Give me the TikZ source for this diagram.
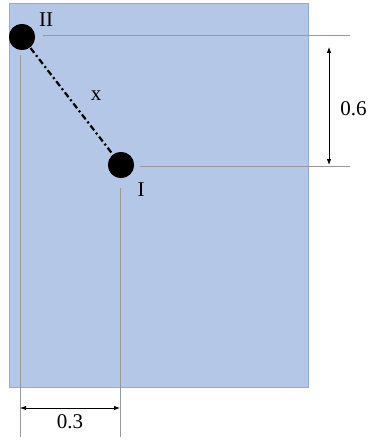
\documentclass[tikz,border=0pt]{standalone}
\usepackage{fontspec}
\setmainfont{Liberation Serif}
\usetikzlibrary{arrows.meta}
\definecolor{boxfill}{HTML}{B4C7E7}
\definecolor{boxline}{HTML}{8FAADC}
\tikzset{
  guide/.style={draw=gray!80, line width=0.6pt},
  dimarrow/.style={draw=black, line width=0.8pt, {Latex[length=6pt,width=4.5pt]}-{Latex[length=6pt,width=4.5pt]}},
  ball/.style={circle, fill=black, minimum size=26pt, inner sep=0pt},
  lbl/.style={font=\fontsize{21}{25}\selectfont, inner sep=0pt},
  link/.style={draw=black, line width=2.2pt, dash pattern=on 6pt off 3pt on 2pt off 3pt}
}
\begin{document}
\begin{tikzpicture}[x=1pt,y=-1pt]
\useasboundingbox (0,0) rectangle (371,441);
\fill[boxfill] (9,3) rectangle (308,387);
\draw[boxline, line width=0.8pt] (9,3) rectangle (308,387);
% guide lines
\coordinate (h2a) at (43,35); \coordinate (h2b) at (350,35);
\coordinate (h1a) at (140,166); \coordinate (h1b) at (350,166);
\coordinate (v2a) at (20,55); \coordinate (v2b) at (20,437);
\coordinate (v1a) at (120,188); \coordinate (v1b) at (120,437);
\draw[guide] (h2a) -- (h2b);
\draw[guide] (h1a) -- (h1b);
\draw[guide] (v2a) -- (v2b);
\draw[guide] (v1a) -- (v1b);
% balls
\node[ball] (II) at (22,37) {};
\node[ball] (I) at (121,165) {};
\draw[link] (II.center) -- (I.center);
\node[ball] at (22,37) {};
\node[ball] at (121,165) {};
% labels
\node[lbl] (lII) at (46,20) {II};
\node[lbl] (lI) at (141,190) {I};
\node[lbl] (lx) at (96,96) {x};
% dimensions
\coordinate (d6a) at (329,47); \coordinate (d6b) at (329,165);
\draw[dimarrow] (d6a) -- (d6b);
\node[lbl] (l06) at (353.5,108.5) {0.6};
\coordinate (d3a) at (20,408); \coordinate (d3b) at (120,408);
\draw[dimarrow] (d3a) -- (d3b);
\node[lbl] (l03) at (70,422) {0.3};
\end{tikzpicture}
\end{document}
